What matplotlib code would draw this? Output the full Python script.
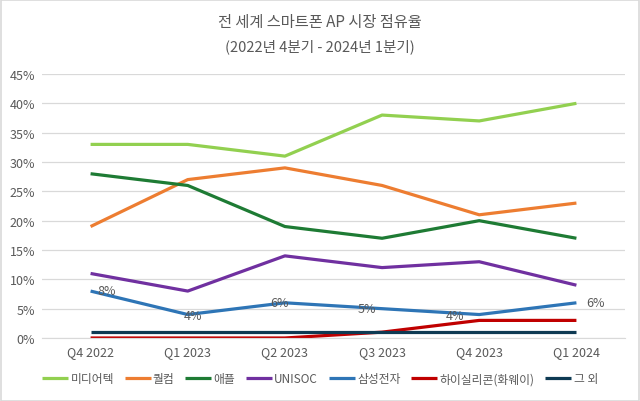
import numpy as np
import matplotlib.pyplot as plt
from matplotlib.ticker import PercentFormatter

plt.rcParams['font.family'] = ['Noto Sans CJK KR', 'DejaVu Sans']

# data
quarters = ['Q4 2022', 'Q1 2023', 'Q2 2023', 'Q3 2023', 'Q4 2023', 'Q1 2024']
mediatek = [33, 33, 31, 38, 37, 40]
qualcomm = [19, 27, 29, 26, 21, 23]
apple = [28, 26, 19, 17, 20, 17]
unisoc = [11, 8, 14, 12, 13, 9]
samsung = [8, 4, 6, 5, 4, 6]
hisilicon = [0, 0, 0, 1, 3, 3]
others = [1, 1, 1, 1, 1, 1]

series = [
    ('미디어텍', mediatek, '#92d050'),
    ('퀄컴', qualcomm, '#ed7d31'),
    ('애플', apple, '#1e7b34'),
    ('UNISOC', unisoc, '#7030a0'),
    ('삼성전자', samsung, '#2e75b6'),
    ('하이실리콘(화웨이)', hisilicon, '#c00000'),
    ('그 외', others, '#0e3a53'),
]

# label offsets for samsung data labels (pixels)
label_dx = [16, 5, -5, -15, -24, 19]
label_dy = [1, -1, 0, 0, -1, 0]

fig = plt.figure(figsize=(6.4, 4.02), dpi=100)
ax = fig.add_axes([42 / 640, 1 - 339 / 402, (625 - 42) / 640, (339 - 75) / 402])

x = np.arange(len(quarters))
for name, vals, col in series:
    ax.plot(x, vals, color=col, lw=2.3, label=name, solid_capstyle='butt')

for i, v in enumerate(samsung):
    ax.annotate(f'{v}%', (x[i], v), xytext=(label_dx[i], label_dy[i]), textcoords='offset pixels',
                ha='center', va='center', fontsize=9, color='#595959')

ax.set_xlim(-0.5, len(quarters) - 0.5)
ax.set_ylim(0, 45)
ax.set_yticks(np.arange(0, 46, 5))
ax.yaxis.set_major_formatter(PercentFormatter(decimals=0))
ax.set_xticks(x)
ax.set_xticklabels(quarters)
ax.grid(axis='y', color='#d9d9d9', lw=0.9)
ax.set_axisbelow(True)
for s in ['top', 'right', 'left']:
    ax.spines[s].set_visible(False)
ax.spines['bottom'].set_color('#d9d9d9')
ax.tick_params(length=0, colors='#595959', labelsize=9, pad=5)

fig.text(0.5, 1 - 22 / 402, '전 세계 스마트폰 AP 시장 점유율', ha='center', va='center',
         fontsize=11, color='#595959')
fig.text(0.5, 1 - 47 / 402, '(2022년 4분기 - 2024년 1분기)', ha='center', va='center',
         fontsize=10.5, color='#595959')

leg = fig.legend(loc='center', bbox_to_anchor=(0.5, 1 - 380 / 402), ncol=7, frameon=False,
                 fontsize=8.5, handlelength=2.2, handletextpad=0.2, columnspacing=0.9)
for t in leg.get_texts():
    t.set_color('#595959')

fig.patches.append(plt.Rectangle((0.001, 0.001), 0.997, 0.997, transform=fig.transFigure,
                                 fill=False, edgecolor='#d9d9d9', lw=1.2))

fig.savefig('out.png', dpi=100)
